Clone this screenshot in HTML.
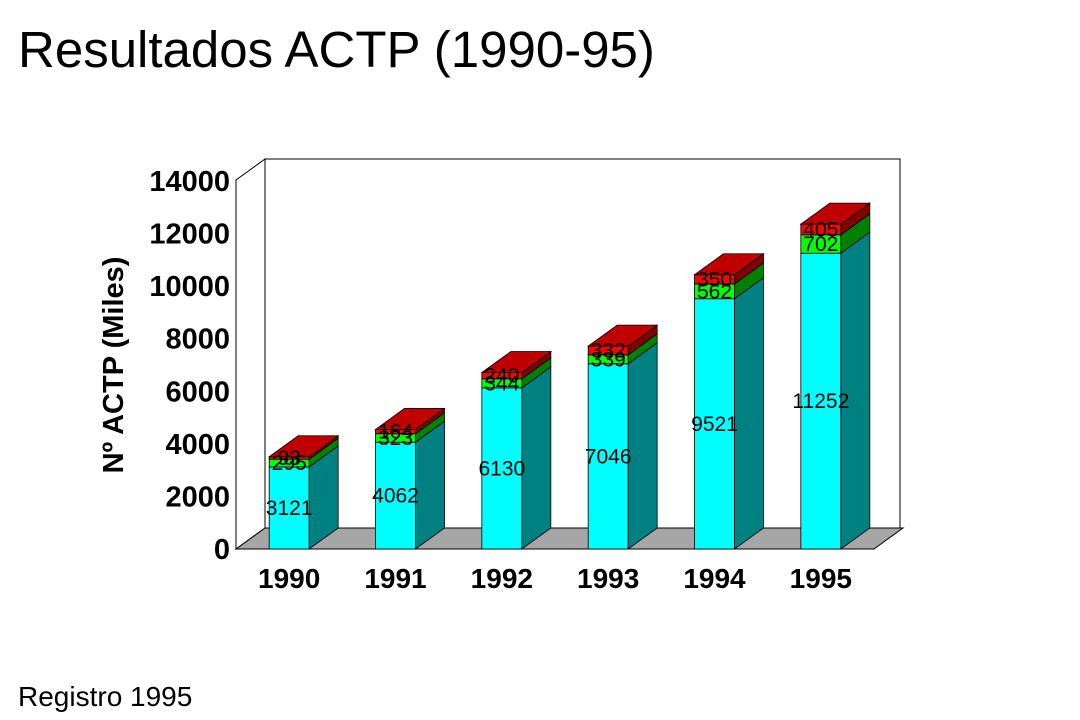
<!DOCTYPE html>
<html><head><meta charset="utf-8"><style>
body{margin:0;background:#fff;width:1080px;height:720px;overflow:hidden;font-family:"Liberation Sans",Arial,sans-serif}
svg{position:absolute;left:0;top:0}
</style></head><body>
<svg id="c" width="1080" height="720">
<text x="18" y="67" font-size="51" fill="#000">Resultados ACTP (1990-95)</text>
<text x="18" y="706" font-size="28" fill="#000">Registro 1995</text>
<text transform="translate(123,365) rotate(-90)" text-anchor="middle" font-size="29" font-weight="bold" fill="#000">Nº ACTP (Miles)</text>
<g id="plot"></g>
</svg>
<script>
const categories = ["1990","1991","1992","1993","1994","1995"];
const baseValues = [3121,4062,6130,7046,9521,11252];
const midValues = [295,323,344,339,562,702];
const topValues = [93,164,240,332,350,405];
const yTicks = [0,2000,4000,6000,8000,10000,12000,14000];

const NS="http://www.w3.org/2000/svg";
const g=document.getElementById('plot');
const X0=236,X1=874,Y0=549,DX=29,DY=21,YMAX=14000,YTOP=181;
const y=v=>Y0-(v/YMAX)*(Y0-YTOP);
const band=(X1-X0)/categories.length;
const cx=i=>X0+band*(i+0.5);
const BW=40;
function el(t,a,p){const e=document.createElementNS(NS,t);for(const k in a)e.setAttribute(k,a[k]);(p||g).appendChild(e);return e;}
function pts(a){return a.map(p=>p.join(',')).join(' ');}

const wall=el('polygon',{points:pts([[X0+DX,Y0-DY],[X0+DX,159],[900,159],[900,Y0-DY]]),fill:'#fff',stroke:'#000','stroke-width':1});


const side=el('polygon',{points:pts([[X0,Y0],[X0,180],[X0+DX,159],[X0+DX,Y0-DY]]),fill:'#fff',stroke:'#000','stroke-width':1});


const floor=el('polygon',{points:pts([[X0,Y0],[X1,Y0],[X1+DX,Y0-DY],[X0+DX,Y0-DY]]),fill:'#a6a6a6',stroke:'#000','stroke-width':1});



yTicks.forEach(t=>{
  const tx=el('text',{x:230,y:y(t)+10,'text-anchor':'end','font-size':29,'font-weight':'bold'});
  tx.textContent=t;
  
  
});

const series=[
  {vals:baseValues,front:'#00ffff',side:'#008080',top:'#00c0c0',name:'base'},
  {vals:midValues,front:'#00ff00',side:'#008000',top:'#00b000',name:'mid'},
  {vals:topValues,front:'#ff0000',side:'#800000',top:'#c00000',name:'top'}
];
categories.forEach((c,i)=>{
  const l=cx(i)-BW/2,r=cx(i)+BW/2;
  let acc=0;
  series.forEach((s,si)=>{
    const v=s.vals[i];const yb=y(acc),yt=y(acc+v);acc+=v;
    const f=el('rect',{x:l,y:yt,width:BW,height:yb-yt,fill:s.front,stroke:'#000','stroke-width':0.8});
    
    
    const sd=el('polygon',{points:pts([[r,yb],[r,yt],[r+DX,yt-DY],[r+DX,yb-DY]]),fill:s.side,stroke:'#000','stroke-width':0.8});
    
    
    if(si===series.length-1){
      const tp=el('polygon',{points:pts([[l,yt],[r,yt],[r+DX,yt-DY],[l+DX,yt-DY]]),fill:s.top,stroke:'#000','stroke-width':0.8});
      
      
    }
  });
  acc=0;
  series.forEach(s=>{
    const v=s.vals[i];const ym=(y(acc)+y(acc+v))/2;acc+=v;
    const t=el('text',{x:cx(i),y:ym+7,'text-anchor':'middle','font-size':21,fill:'#000'});
    t.textContent=v;
    
    
  });
  const xl=el('text',{x:cx(i),y:588,'text-anchor':'middle','font-size':28,'font-weight':'bold'});
  xl.textContent=c;
  
  
});
</script>
</body></html>
